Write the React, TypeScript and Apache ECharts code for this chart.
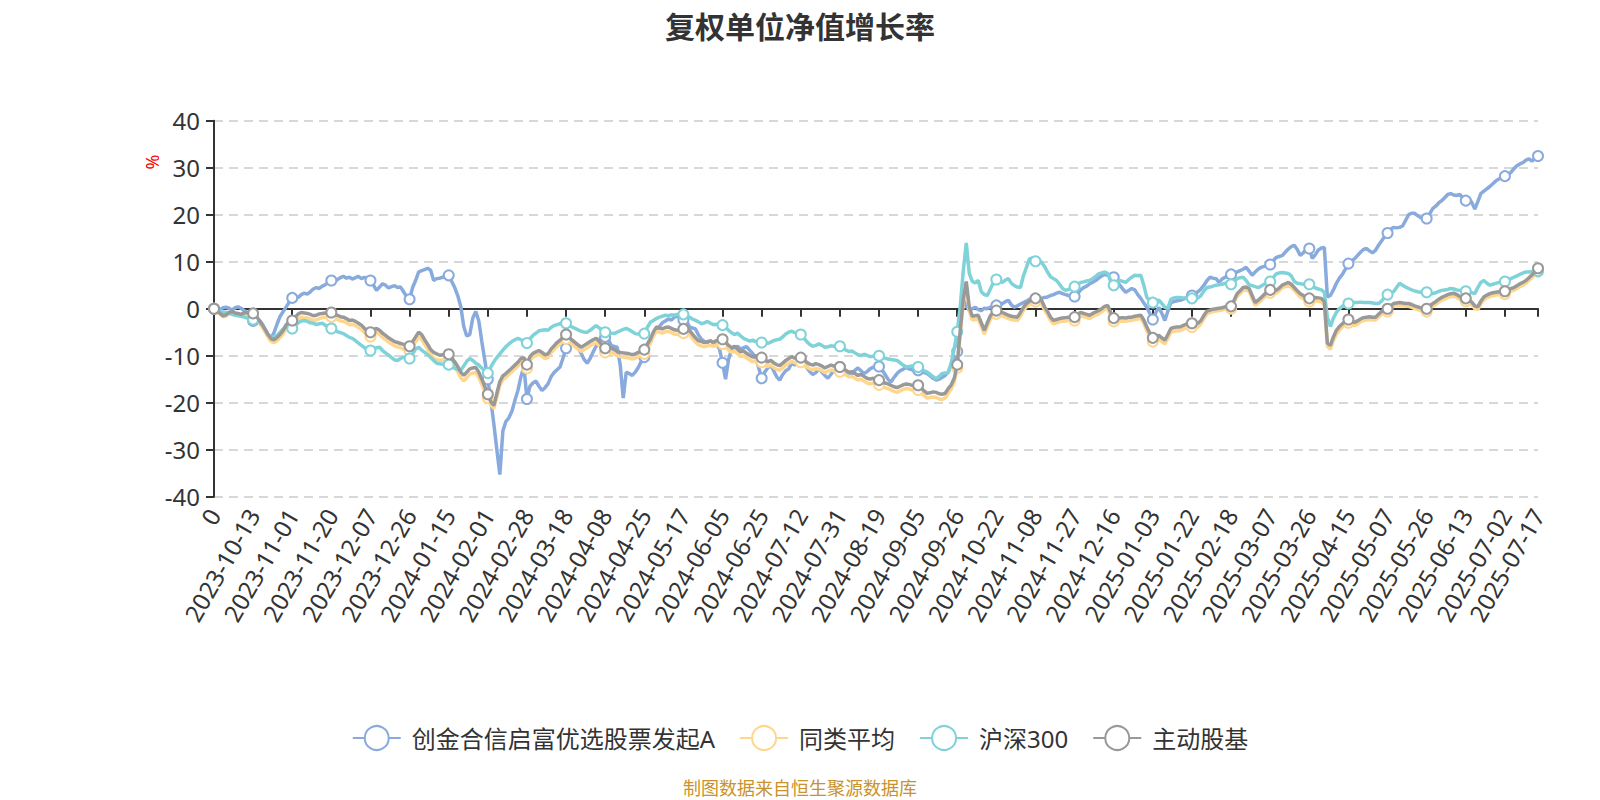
import React, { useEffect, useRef } from "react";
import * as echarts from "echarts";

// ---- categories (x axis) ----
const anchorLabels: string[] = [
  "0", "2023-10-13", "2023-11-01", "2023-11-20", "2023-12-07", "2023-12-26",
  "2024-01-15", "2024-02-01", "2024-02-28", "2024-03-18", "2024-04-08", "2024-04-25",
  "2024-05-17", "2024-06-05", "2024-06-25", "2024-07-12", "2024-07-31", "2024-08-19",
  "2024-09-05", "2024-09-26", "2024-10-22", "2024-11-08", "2024-11-27", "2024-12-16",
  "2025-01-03", "2025-01-22", "2025-02-18", "2025-03-07", "2025-03-26", "2025-04-15",
  "2025-05-07", "2025-05-26", "2025-06-13", "2025-07-02",
];
const lastLabel = "2025-07-17";

// ---- series values (%) ----
const fundValues: number[] = [
  0, 0.1, -0.2, 0.2, 0.3, 0.1, -0.3, 0.2, 0.4, 0.1, -0.4, -0.8, -1.6,
  -2.6, -3.0, -2.4, -3.2, -4.5, -5.6, -6.2, -5.0, -3.2, -1.6, -0.6, 0.4, 1.4,
  2.3, 2.6, 2.4, 3.0, 3.3, 3.1, 3.6, 4.2, 4.5, 4.3, 4.8, 5.1, 5.6,
  6.0, 5.7, 6.2, 6.6, 6.9, 6.5, 6.7, 6.3, 6.6, 6.9, 6.4, 6.7, 6.2,
  6.0, 5.0, 3.9, 4.6, 5.3, 5.0, 4.4, 4.7, 4.9, 4.5, 4.6, 3.6, 2.6,
  2.0, 4.5, 6.0, 7.8, 8.1, 8.3, 8.6, 8.2, 6.0, 6.4, 6.5, 6.7, 6.9,
  7.1, 5.8, 4.5, 2.8, 0.5, -3.8, -5.8, -5.5, -2.0, -0.6, -2.6, -7.0, -11.0,
  -15.0, -19.5, -24.5, -30.0, -35.3, -26.0, -24.0, -23.2, -21.8, -19.5, -17.4, -14.5, -12.3,
  -19.2, -16.5, -15.8, -15.4, -16.5, -17.4, -16.8, -16.0, -14.5, -13.6, -13.0, -12.4, -10.5,
  -8.4, -7.5, -6.7, -7.2, -8.4, -9.5, -10.8, -11.6, -10.6, -9.2, -8.0, -6.6, -5.8,
  -6.0, -6.5, -7.8, -8.0, -8.2, -12.0, -19.0, -13.5, -13.8, -14.2, -13.5, -12.5, -11.2,
  -10.3, -7.6, -6.5, -5.4, -4.6, -3.8, -3.0, -2.6, -2.2, -2.4, -1.8, -1.6, -2.0,
  -2.4, -2.5, -3.9, -4.1, -4.3, -5.6, -6.5, -7.0, -7.2, -6.8, -7.3, -7.6, -8.6,
  -11.5, -15.0, -10.8, -8.6, -8.2, -8.0, -8.6, -8.3, -8.1, -8.8, -9.5, -10.5, -12.5,
  -14.8, -13.5, -12.6, -12.0, -13.2, -14.5, -15.2, -14.0, -13.2, -12.8, -11.5, -12.0, -11.2,
  -10.7, -11.5, -12.5, -13.4, -14.0, -13.6, -12.8, -13.5, -14.2, -14.8, -14.0, -13.2, -12.8,
  -12.4, -12.9, -13.6, -14.2, -13.8, -13.1, -12.6, -13.2, -13.8, -13.4, -12.8, -12.5, -12.2,
  -12.3, -13.0, -14.0, -15.0, -15.6, -14.6, -13.8, -13.2, -12.9, -12.5, -12.8, -13.0, -13.1,
  -13.1, -13.4, -13.6, -13.8, -14.3, -14.8, -15.2, -15.0, -14.6, -14.2, -13.5, -12.0, -10.5,
  -9.1, -3.0, 2.0, 0.5, -0.4, 0.0, 0.3, -0.2, -0.4, 0.1, 0.0, 0.3, 0.5,
  0.7, 0.9, 1.1, 1.5, 1.8, 0.8, 0.3, 0.6, 1.0, 1.3, 1.6, 2.0, 2.3,
  2.0, 1.8, 2.2, 2.4, 2.5, 2.8, 3.0, 3.3, 3.5, 3.2, 3.0, 2.8, 2.7,
  2.6, 3.2, 4.0, 4.5, 4.8, 5.3, 5.6, 6.0, 6.5, 7.0, 7.3, 7.1, 6.9,
  6.7, 5.8, 5.0, 4.2, 3.5, 3.9, 4.3, 4.0, 3.0, 2.2, 1.2, 0.3, -1.0,
  -2.3, -0.8, 0.3, -1.0, -2.5, -0.5, 1.3, 1.5, 1.7, 1.8, 2.0, 2.3, 2.6,
  2.8, 3.2, 3.6, 4.2, 5.0, 6.0, 6.7, 6.5, 6.4, 5.6, 6.3, 6.7, 6.9,
  7.3, 7.6, 7.8, 8.1, 8.4, 8.8, 8.0, 7.1, 7.8, 8.4, 8.8, 9.0, 9.2,
  9.4, 10.2, 10.9, 11.1, 11.3, 12.0, 12.7, 13.2, 13.5, 12.6, 11.3, 11.9, 12.6,
  12.8, 10.7, 11.5, 12.5, 12.9, 13.0, 2.5, 2.8, 4.0, 5.4, 6.5, 7.3, 8.4,
  9.6, 10.2, 10.6, 11.3, 12.0, 12.6, 12.8, 12.3, 11.9, 12.4, 13.5, 14.4, 15.3,
  16.1, 16.9, 17.3, 17.2, 17.3, 17.6, 18.8, 20.0, 20.3, 20.3, 19.8, 19.4, 19.2,
  19.2, 20.2, 21.3, 21.8, 22.5, 23.0, 23.6, 24.3, 24.5, 24.2, 24.1, 24.3, 23.6,
  23.0, 23.5, 22.6, 21.2, 22.8, 24.5, 25.0, 25.5, 26.0, 26.6, 27.2, 27.6, 27.9,
  28.2, 28.6, 29.0, 29.8, 30.4, 30.8, 31.1, 31.6, 31.9, 31.4, 32.0, 32.5,
];

const peerAvgValues: number[] = [
  0, -0.6, -1.1, -1.7, -1.6, -1.1, -0.9, -1.2, -1.3, -1.5, -1.3, -1.2, -1.3,
  -1.4, -2.0, -2.8, -3.9, -5.0, -6.1, -7.0, -7.2, -6.8, -6.1, -5.3, -4.2, -3.6,
  -3.3, -2.7, -2.1, -1.8, -1.9, -2.0, -2.2, -2.5, -2.4, -2.1, -1.9, -1.8, -1.7,
  -1.7, -2.1, -2.3, -2.6, -2.7, -3.0, -3.4, -3.3, -3.6, -4.0, -4.4, -5.1, -5.6,
  -5.9, -5.4, -5.1, -5.5, -6.1, -6.6, -7.1, -7.5, -7.9, -8.1, -8.3, -8.6, -8.9,
  -9.0, -8.0, -7.0, -6.0, -6.5, -7.6, -8.6, -9.8, -10.5, -10.8, -11.0, -10.9, -10.8,
  -10.8, -11.6, -12.4, -13.4, -14.7, -15.4, -14.7, -13.9, -13.7, -13.6, -14.6, -16.1, -17.6,
  -19.0, -20.5, -21.2, -18.8, -16.3, -15.1, -14.6, -14.0, -13.4, -12.8, -12.2, -11.4, -11.2,
  -12.7, -11.0, -10.3, -10.0, -9.7, -10.1, -10.6, -10.4, -9.4, -8.7, -8.0, -7.5, -6.9,
  -6.4, -7.0, -7.6, -8.1, -8.6, -9.1, -8.7, -8.3, -7.9, -7.5, -7.2, -7.8, -8.7,
  -9.3, -9.2, -9.3, -9.6, -10.0, -10.2, -10.3, -10.4, -10.5, -10.7, -10.5, -10.2, -9.9,
  -9.6, -8.5, -7.4, -5.9, -4.8, -5.0, -5.2, -4.9, -4.8, -5.1, -5.4, -5.5, -5.3,
  -5.2, -5.4, -5.5, -6.3, -7.1, -7.7, -7.9, -8.1, -7.9, -7.8, -8.0, -7.7, -7.5,
  -7.5, -8.2, -8.8, -9.3, -9.0, -9.6, -10.2, -10.0, -10.5, -10.9, -11.3, -11.0, -11.2,
  -11.4, -11.8, -12.3, -12.0, -12.5, -12.9, -13.1, -12.6, -12.0, -11.6, -11.2, -11.5, -11.3,
  -11.4, -11.9, -12.4, -12.8, -13.0, -12.7, -12.9, -13.2, -13.6, -13.3, -13.0, -13.2, -13.3,
  -13.4, -13.8, -14.1, -14.5, -14.4, -14.8, -15.2, -15.0, -15.4, -15.8, -16.0, -15.8, -16.1,
  -16.2, -16.5, -16.8, -17.0, -17.3, -17.6, -17.8, -17.5, -17.2, -17.0, -17.1, -17.3, -17.3,
  -17.3, -17.9, -18.5, -19.0, -18.9, -18.8, -18.9, -19.2, -19.3, -19.0, -18.0, -17.1, -15.6,
  -12.6, -5.3, 1.2, 4.8, -0.5, -2.4, -2.3, -2.2, -3.8, -5.4, -3.8, -2.3, -1.5,
  -1.1, -1.3, -1.5, -1.8, -2.1, -2.3, -2.4, -2.5, -1.5, -0.4, 0.4, 0.9, 1.3,
  1.5, 2.0, 1.1, -0.3, -1.3, -2.5, -3.2, -3.0, -2.8, -2.7, -2.6, -2.5, -2.5,
  -2.5, -1.9, -1.5, -1.7, -1.9, -2.1, -1.7, -1.4, -1.1, -0.7, -0.2, 0.0, -1.5,
  -2.7, -2.8, -2.7, -2.6, -2.7, -2.5, -2.5, -2.3, -2.2, -2.1, -3.1, -4.7, -6.0,
  -7.0, -6.7, -6.5, -7.0, -7.5, -6.3, -5.0, -4.8, -4.7, -4.7, -4.4, -4.1, -4.0,
  -3.9, -3.8, -3.9, -3.2, -2.1, -1.1, -0.8, -0.6, -0.5, -0.4, -0.3, -0.1, -0.1,
  0.0, 1.3, 2.6, 3.2, 3.9, 4.0, 3.7, 2.2, 0.7, 1.2, 1.8, 2.4, 3.0,
  3.4, 3.3, 3.3, 3.8, 4.4, 4.7, 5.0, 4.6, 3.9, 3.2, 2.5, 2.1, 1.7,
  1.5, 1.6, 1.7, 1.6, 1.5, 0.8, -8.0, -8.6, -6.8, -5.4, -4.6, -3.9, -3.3,
  -3.0, -3.3, -3.6, -3.3, -2.8, -2.5, -2.4, -2.3, -2.4, -2.4, -1.8, -1.2, -0.8,
  -0.6, 0.0, 0.5, 0.6, 0.7, 0.6, 0.5, 0.5, 0.3, 0.0, -0.2, -0.4, -0.6,
  -0.6, 0.0, 0.5, 0.9, 1.4, 1.8, 2.1, 2.4, 2.6, 2.7, 2.4, 2.0, 1.7,
  1.6, 1.3, 0.8, 0.0, -0.2, 1.0, 1.9, 2.3, 2.6, 2.8, 2.9, 3.0, 3.0,
  3.1, 3.4, 3.7, 3.9, 4.3, 4.7, 5.0, 5.4, 6.0, 6.6, 7.3, 7.9,
];

const csi300Values: number[] = [
  0, -0.3, -0.5, -0.7, -0.8, -0.9, -1.2, -1.4, -1.5, -1.6, -1.8, -2.0, -2.1,
  -2.3, -2.6, -2.9, -3.3, -4.4, -5.6, -6.1, -5.9, -5.7, -5.0, -4.3, -3.9, -4.1,
  -4.2, -3.6, -3.0, -2.6, -2.5, -2.7, -3.0, -3.1, -3.4, -3.2, -3.1, -3.5, -3.9,
  -4.2, -4.5, -4.9, -5.1, -5.3, -5.7, -6.1, -6.3, -6.8, -7.3, -7.8, -8.3, -8.7,
  -8.9, -8.6, -8.3, -8.2, -8.9, -9.4, -9.9, -10.4, -10.9, -11.0, -10.6, -10.3, -10.5,
  -10.6, -9.6, -8.6, -8.2, -8.8, -9.3, -9.8, -10.4, -11.0, -11.6, -11.7, -11.8, -11.9,
  -11.9, -12.3, -12.7, -12.9, -13.1, -12.2, -11.2, -10.6, -11.0, -11.6, -12.0, -12.6, -13.2,
  -13.7, -12.4, -11.3, -10.4, -9.6, -8.8, -8.1, -7.5, -7.0, -6.6, -6.3, -6.6, -7.0,
  -7.3, -6.4, -5.7, -5.2, -4.7, -4.6, -4.5, -4.6, -4.0, -3.6, -3.4, -3.2, -3.1,
  -3.1, -3.5, -3.9, -4.2, -4.5, -4.8, -5.0, -5.0, -4.6, -4.1, -3.6, -4.1, -4.6,
  -5.0, -5.1, -5.2, -5.3, -5.0, -4.7, -4.4, -4.2, -4.5, -4.9, -5.3, -5.4, -5.3,
  -5.3, -4.0, -2.9, -2.5, -2.1, -1.8, -1.6, -1.4, -1.5, -1.3, -1.4, -1.2, -1.3,
  -1.2, -1.5, -1.8, -2.2, -2.5, -2.8, -3.2, -3.0, -2.7, -3.1, -3.4, -3.3, -3.4,
  -3.5, -4.0, -4.6, -5.1, -5.5, -5.2, -5.8, -6.3, -6.6, -6.9, -6.7, -7.0, -7.1,
  -7.2, -7.0, -7.4, -7.1, -6.8, -6.6, -6.5, -6.0, -5.4, -5.0, -4.8, -5.1, -5.3,
  -5.5, -6.2, -7.0, -7.6, -8.0, -7.8, -7.5, -7.8, -8.2, -8.1, -7.9, -8.0, -8.0,
  -8.0, -8.4, -8.8, -9.1, -9.0, -9.4, -9.8, -10.0, -9.7, -9.9, -10.2, -10.1, -10.0,
  -10.0, -10.3, -10.5, -10.7, -10.8, -10.9, -11.0, -11.5, -12.0, -12.4, -12.3, -12.2, -12.4,
  -12.4, -12.8, -13.2, -13.5, -14.0, -14.5, -14.9, -14.4, -13.8, -13.7, -13.6, -11.5, -8.5,
  -4.9, 0.5, 8.0, 14.0, 7.5, 5.8, 5.5, 6.0, 3.6, 3.0, 2.8, 4.2, 5.5,
  6.2, 5.9, 5.6, 6.1, 6.4, 5.4, 4.9, 4.6, 4.5, 7.0, 8.8, 10.6, 10.8,
  10.1, 10.2, 9.9, 9.0, 7.8, 6.8, 6.4, 6.0, 5.2, 4.3, 3.9, 4.1, 4.4,
  4.7, 5.2, 5.6, 5.7, 5.9, 6.0, 6.4, 6.9, 7.4, 7.6, 7.8, 7.5, 6.0,
  5.0, 5.6, 6.0, 5.8, 5.6, 6.2, 6.7, 7.1, 7.0, 7.1, 5.0, 2.4, 1.8,
  1.3, 1.6, 1.8, 1.1, 0.3, 0.1, 2.0, 2.3, 2.4, 2.4, 2.3, 2.2, 2.2,
  2.2, 2.1, 2.3, 2.8, 3.8, 4.5, 4.6, 4.8, 5.0, 5.1, 5.2, 5.4, 5.3,
  5.2, 5.8, 6.4, 6.6, 6.7, 6.0, 5.1, 4.9, 4.7, 4.5, 4.8, 5.2, 5.5,
  5.8, 6.6, 7.4, 7.6, 7.7, 7.6, 7.5, 7.0, 5.8, 5.4, 5.3, 5.2, 5.2,
  5.2, 4.8, 4.4, 4.2, 4.0, 3.5, -1.8, -3.8, -2.0, -0.8, 0.0, 0.5, 0.9,
  1.1, 1.2, 1.3, 1.3, 1.4, 1.3, 1.3, 1.3, 1.2, 1.1, 1.1, 1.6, 2.4,
  3.0, 3.3, 3.6, 4.5, 5.4, 5.0, 4.6, 4.3, 4.0, 3.8, 3.6, 3.5, 3.5,
  3.5, 3.3, 3.2, 3.4, 3.7, 3.9, 4.0, 4.1, 4.3, 4.2, 4.0, 3.9, 3.8,
  3.7, 3.5, 3.4, 3.2, 4.5, 5.6, 6.0, 5.4, 5.0, 5.2, 5.4, 5.6, 5.7,
  5.8, 6.1, 6.4, 6.7, 7.0, 7.3, 7.6, 7.8, 7.8, 7.9, 8.1, 8.0,
];

const activeEquityValues: number[] = [
  0, -0.5, -1.0, -1.5, -1.3, -0.8, -0.6, -0.9, -1.0, -1.2, -0.9, -0.8, -0.9,
  -1.0, -1.6, -2.4, -3.4, -4.4, -5.5, -6.4, -6.6, -6.1, -5.4, -4.6, -3.4, -2.8,
  -2.5, -1.8, -1.1, -0.8, -0.9, -1.0, -1.2, -1.5, -1.4, -1.1, -1.0, -0.9, -0.8,
  -0.8, -1.2, -1.4, -1.7, -1.8, -2.1, -2.5, -2.4, -2.7, -3.1, -3.5, -4.2, -4.7,
  -5.0, -4.5, -4.2, -4.6, -5.2, -5.7, -6.2, -6.6, -7.0, -7.2, -7.4, -7.6, -7.9,
  -8.0, -7.0, -6.0, -5.0, -5.5, -6.6, -7.6, -8.7, -9.3, -9.6, -9.9, -9.8, -9.7,
  -9.7, -10.5, -11.3, -12.3, -13.5, -14.2, -13.5, -12.8, -12.6, -12.5, -13.5, -15.0, -16.6,
  -18.2, -19.8, -20.6, -18.0, -15.5, -14.3, -13.8, -13.2, -12.6, -12.0, -11.4, -10.6, -10.4,
  -11.9, -10.2, -9.5, -9.2, -8.9, -9.3, -9.8, -9.6, -8.6, -7.9, -7.2, -6.7, -6.1,
  -5.5, -6.1, -6.7, -7.2, -7.7, -8.2, -7.8, -7.4, -7.0, -6.6, -6.3, -6.9, -7.8,
  -8.4, -8.3, -8.4, -8.7, -9.1, -9.3, -9.4, -9.5, -9.6, -9.8, -9.6, -9.3, -9.0,
  -8.7, -7.6, -6.5, -5.0, -3.9, -4.1, -4.3, -4.0, -3.9, -4.2, -4.5, -4.6, -4.4,
  -4.3, -4.5, -4.6, -5.4, -6.2, -6.8, -7.0, -7.2, -7.0, -6.9, -7.1, -6.8, -6.6,
  -6.5, -7.2, -7.8, -8.3, -8.0, -8.6, -9.2, -9.0, -9.5, -9.9, -10.3, -10.0, -10.2,
  -10.4, -10.8, -11.3, -11.0, -11.5, -11.9, -12.1, -11.6, -11.0, -10.6, -10.2, -10.5, -10.3,
  -10.4, -10.9, -11.4, -11.8, -12.0, -11.7, -11.9, -12.2, -12.6, -12.3, -12.0, -12.2, -12.3,
  -12.4, -12.8, -13.1, -13.5, -13.4, -13.8, -14.2, -14.0, -14.4, -14.8, -15.0, -14.8, -15.1,
  -15.2, -15.5, -15.8, -16.0, -16.3, -16.6, -16.8, -16.5, -16.2, -16.0, -16.1, -16.3, -16.3,
  -16.3, -16.9, -17.5, -18.0, -17.9, -17.7, -17.8, -18.1, -18.2, -18.0, -17.0, -16.2, -14.8,
  -11.9, -4.6, 2.0, 5.8, 0.3, -1.6, -1.5, -1.4, -3.0, -4.6, -3.0, -1.5, -0.7,
  -0.4, -0.6, -0.8, -1.1, -1.4, -1.6, -1.7, -1.8, -0.8, 0.3, 1.1, 1.6, 2.0,
  2.2, 2.7, 1.8, 0.4, -0.6, -1.8, -2.5, -2.3, -2.1, -2.0, -1.9, -1.8, -1.8,
  -1.8, -1.2, -0.8, -1.0, -1.2, -1.4, -1.0, -0.7, -0.4, 0.0, 0.5, 0.7, -0.8,
  -2.0, -2.1, -2.0, -1.9, -2.0, -1.8, -1.8, -1.6, -1.5, -1.4, -2.4, -3.9, -5.2,
  -6.2, -5.9, -5.7, -6.2, -6.7, -5.5, -4.2, -4.0, -3.9, -3.9, -3.6, -3.3, -3.2,
  -3.1, -3.0, -3.1, -2.5, -1.4, -0.5, -0.3, -0.1, 0.0, 0.1, 0.2, 0.4, 0.4,
  0.5, 1.8, 3.2, 3.8, 4.5, 4.6, 4.3, 2.8, 1.3, 1.8, 2.4, 3.0, 3.6,
  4.0, 3.9, 3.9, 4.4, 5.0, 5.3, 5.6, 5.2, 4.5, 3.8, 3.2, 2.8, 2.4,
  2.2, 2.3, 2.4, 2.3, 2.2, 1.5, -7.3, -7.8, -6.0, -4.6, -3.8, -3.2, -2.6,
  -2.3, -2.6, -2.9, -2.6, -2.2, -1.9, -1.8, -1.7, -1.8, -1.8, -1.2, -0.6, -0.2,
  0.0, 0.6, 1.1, 1.2, 1.3, 1.2, 1.1, 1.1, 0.9, 0.6, 0.4, 0.2, 0.0,
  0.0, 0.6, 1.1, 1.5, 2.0, 2.4, 2.7, 3.0, 3.2, 3.3, 3.0, 2.6, 2.3,
  2.2, 1.9, 1.4, 0.6, 0.4, 1.6, 2.5, 2.9, 3.2, 3.4, 3.5, 3.6, 3.6,
  3.7, 4.0, 4.3, 4.5, 4.9, 5.3, 5.6, 6.0, 6.6, 7.2, 7.9, 8.6,
];

const seriesNames = ["创金合信启富优选股票发起A", "同类平均", "沪深300", "主动股基"];
const seriesColors = ["#88aadd", "#ffd68c", "#7fd3d8", "#999999"];
const yTicks = { min: -40, max: 40, interval: 10 };

function nextWeekdays(start: string, n: number): string[] {
  const d = new Date(start + "T00:00:00Z");
  const out: string[] = [];
  while (out.length < n) {
    d.setUTCDate(d.getUTCDate() + 1);
    const wd = d.getUTCDay();
    if (wd !== 0 && wd !== 6) out.push(d.toISOString().slice(0, 10));
  }
  return out;
}

function buildCategories(): string[] {
  const cats: string[] = [];
  anchorLabels.forEach((lab) => {
    cats.push(lab);
    const base = lab === "0" ? "2023-09-22" : lab;
    cats.push(...nextWeekdays(base, 12));
  });
  cats.length = fundValues.length - 1;
  cats.push(lastLabel);
  return cats;
}

const FONT = "'Noto Sans', 'Noto Sans CJK SC', sans-serif";

export default function App() {
  const ref = useRef<HTMLDivElement>(null);
  useEffect(() => {
    document.body.style.margin = "0";
    if (!ref.current) return;
    const chart = echarts.init(ref.current, undefined, { renderer: "svg" });
    const categories = buildCategories();
    const allValues = [fundValues, peerAvgValues, csi300Values, activeEquityValues];
    const axisLineStyle = { color: "#333", width: 2 };
    const option: any = {
      animation: false,
      backgroundColor: "#ffffff",
      textStyle: { fontFamily: FONT },
      title: {
        text: "复权单位净值增长率",
        left: "center",
        top: 6,
        textStyle: { fontSize: 30, fontWeight: "bold", color: "#333", fontFamily: FONT },
      },
      legend: {
        top: 720,
        left: "center",
        itemWidth: 48,
        itemHeight: 30,
        itemGap: 24,
        textStyle: { fontSize: 24, color: "#333", fontFamily: FONT, padding: [0, 0, 0, 6] },
        data: seriesNames,
      },
      grid: {
        left: 214,
        right: 62,
        top: 120.7,
        bottom: 303.3,
        containLabel: false,
        outerBoundsMode: "none",
      },
      xAxis: {
        type: "category",
        data: categories,
        boundaryGap: false,
        axisLine: { show: true, onZero: true, lineStyle: axisLineStyle },
        axisTick: { show: true, interval: 12, length: 8, lineStyle: axisLineStyle },
        axisLabel: {
          interval: 12,
          showMaxLabel: true,
          rotate: 60,
          margin: 14,
          fontSize: 24,
          color: "#333",
          fontFamily: FONT,
        },
        splitLine: { show: false },
      },
      yAxis: {
        type: "value",
        min: yTicks.min,
        max: yTicks.max,
        interval: yTicks.interval,
        axisLine: { show: true, lineStyle: axisLineStyle },
        axisTick: { show: true, length: 8, lineStyle: axisLineStyle },
        axisLabel: { fontSize: 24, color: "#333", margin: 14, fontFamily: FONT },
        splitLine: { show: true, lineStyle: { type: [9, 6], color: "#cccccc", width: 1.5 } },
      },
      graphic: [
        {
          type: "text",
          x: 152,
          y: 162,
          rotation: Math.PI / 2,
          style: {
            text: "%",
            fill: "#ff0000",
            fontSize: 18,
            fontFamily: FONT,
            align: "center",
            verticalAlign: "middle",
          },
        },
        {
          type: "text",
          left: "center",
          top: 779,
          style: {
            text: "制图数据来自恒生聚源数据库",
            fill: "#c9922c",
            fontSize: 18,
            fontFamily: FONT,
          },
        },
      ],
      series: seriesNames.map((name, i) => ({
        name,
        type: "line",
        data: allValues[i],
        symbol: "emptyCircle",
        symbolSize: 10,
        showSymbol: true,
        showAllSymbol: "auto",
        lineStyle: { width: 3.5, color: seriesColors[i] },
        itemStyle: { color: seriesColors[i], borderWidth: 2 },
        emphasis: { disabled: true },
        z: 2 + i,
      })),
    };
    chart.setOption(option);
    return () => chart.dispose();
  }, []);
  return <div ref={ref} style={{ width: 1600, height: 800 }} />;
}
